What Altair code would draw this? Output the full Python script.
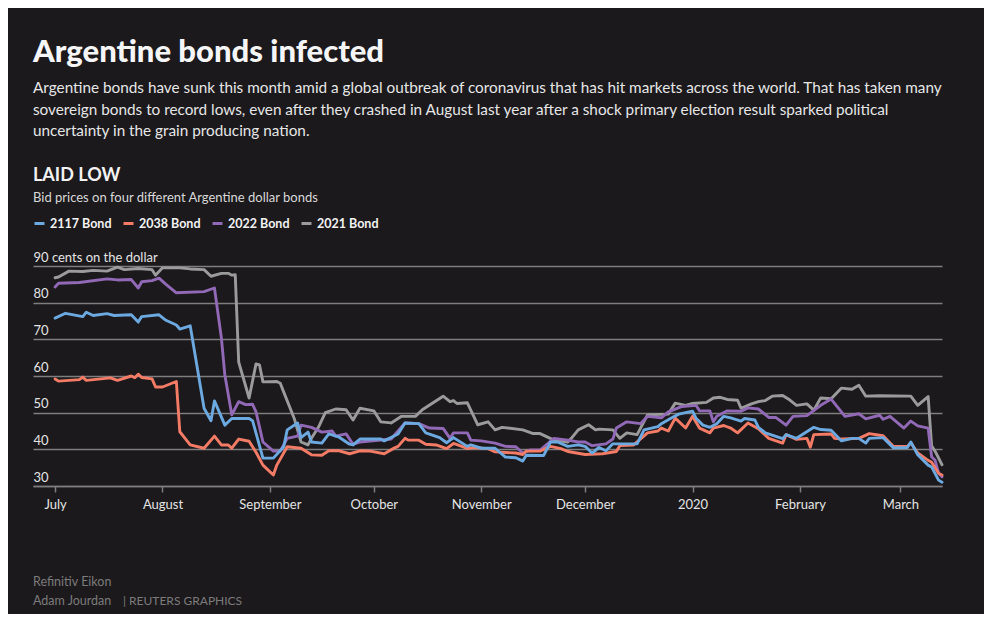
import altair as alt
import pandas as pd

# ---------------- data ----------------
series_names = ["2117 Bond", "2038 Bond", "2022 Bond", "2021 Bond"]
series_colors = ["#6ba9e0", "#f47b65", "#9169b6", "#9b9b9b"]

bond_2021_dates = [
    "2019-07-01", "2019-07-02", "2019-07-05", "2019-07-09", "2019-07-12", "2019-07-16",
    "2019-07-19", "2019-07-21", "2019-07-25", "2019-07-29", "2019-07-30", "2019-08-01",
    "2019-08-06", "2019-08-09", "2019-08-13", "2019-08-15", "2019-08-18", "2019-08-20",
    "2019-08-21", "2019-08-22", "2019-08-23", "2019-08-26", "2019-08-28", "2019-08-29",
    "2019-08-30", "2019-09-03", "2019-09-04", "2019-09-05", "2019-09-08", "2019-09-10",
    "2019-09-12", "2019-09-13", "2019-09-15", "2019-09-17", "2019-09-20", "2019-09-23",
    "2019-09-25", "2019-09-27", "2019-10-01", "2019-10-03", "2019-10-06", "2019-10-09",
    "2019-10-13", "2019-10-15", "2019-10-21", "2019-10-23", "2019-10-24", "2019-10-25",
    "2019-10-28", "2019-10-31", "2019-11-03", "2019-11-05", "2019-11-07", "2019-11-13",
    "2019-11-16", "2019-11-18", "2019-11-22", "2019-11-26", "2019-11-27", "2019-11-29",
    "2019-12-02", "2019-12-04", "2019-12-05", "2019-12-09", "2019-12-11", "2019-12-13",
    "2019-12-16", "2019-12-19", "2019-12-25", "2019-12-27", "2019-12-30", "2020-01-01",
    "2020-01-05", "2020-01-07", "2020-01-09", "2020-01-11", "2020-01-14", "2020-01-15",
    "2020-01-18", "2020-01-20", "2020-01-22", "2020-01-24", "2020-01-27", "2020-01-29",
    "2020-01-31", "2020-02-03", "2020-02-05", "2020-02-07", "2020-02-10", "2020-02-13",
    "2020-02-16", "2020-02-18", "2020-02-20", "2020-02-24", "2020-03-04", "2020-03-06",
    "2020-03-09", "2020-03-10", "2020-03-11", "2020-03-13",
]
bond_2021_values = [
    86.8, 87.0, 88.6, 88.5, 88.8, 88.6,
    89.7, 89.0, 89.3, 89.0, 87.5, 89.5,
    89.5, 89.2, 89.0, 87.2, 88.0, 88.0,
    87.5, 87.6, 63.8, 54.0, 63.3, 63.0,
    58.4, 58.5, 58.0, 55.6, 48.5, 42.0,
    41.2, 43.0, 46.0, 50.0, 51.0, 50.8,
    48.0, 51.2, 50.5, 47.5, 47.2, 49.0,
    49.0, 50.8, 54.5, 53.0, 53.3, 52.5,
    52.7, 46.7, 47.5, 45.3, 46.0, 45.3,
    44.3, 44.3, 42.5, 42.0, 43.0, 45.3,
    46.7, 45.3, 45.5, 45.3, 43.0, 44.5,
    44.0, 49.4, 49.6, 52.6, 52.0, 52.5,
    52.8, 54.0, 54.2, 53.6, 53.4, 51.2,
    52.4, 53.0, 53.3, 54.5, 54.7, 53.5,
    52.0, 52.4, 50.7, 54.0, 53.8, 56.7,
    56.4, 57.5, 54.5, 54.6, 54.5, 52.0,
    54.4, 41.0, 39.5, 35.8,
]

bond_2022_dates = [
    "2019-07-01", "2019-07-02", "2019-07-08", "2019-07-16", "2019-07-19", "2019-07-23",
    "2019-07-25", "2019-07-26", "2019-07-29", "2019-07-31", "2019-08-02", "2019-08-05",
    "2019-08-13", "2019-08-16", "2019-08-18", "2019-08-19", "2019-08-21", "2019-08-23",
    "2019-08-25", "2019-08-27", "2019-08-28", "2019-08-30", "2019-09-02", "2019-09-04",
    "2019-09-06", "2019-09-09", "2019-09-10", "2019-09-13", "2019-09-16", "2019-09-19",
    "2019-09-20", "2019-09-23", "2019-09-25", "2019-09-27", "2019-10-06", "2019-10-10",
    "2019-10-14", "2019-10-17", "2019-10-21", "2019-10-23", "2019-10-24", "2019-10-28",
    "2019-10-29", "2019-11-01", "2019-11-05", "2019-11-08", "2019-11-11", "2019-11-13",
    "2019-11-15", "2019-11-18", "2019-11-22", "2019-11-26", "2019-11-29", "2019-12-01",
    "2019-12-03", "2019-12-07", "2019-12-09", "2019-12-10", "2019-12-13", "2019-12-17",
    "2019-12-19", "2019-12-23", "2019-12-25", "2019-12-29", "2020-01-02", "2020-01-03",
    "2020-01-06", "2020-01-07", "2020-01-08", "2020-01-11", "2020-01-15", "2020-01-17",
    "2020-01-20", "2020-01-23", "2020-01-25", "2020-01-28", "2020-01-30", "2020-02-03",
    "2020-02-07", "2020-02-10", "2020-02-14", "2020-02-18", "2020-02-20", "2020-02-24",
    "2020-02-25", "2020-02-27", "2020-03-02", "2020-03-04", "2020-03-06", "2020-03-09",
    "2020-03-10", "2020-03-11", "2020-03-12", "2020-03-13",
]
bond_2022_values = [
    84.3, 85.3, 85.5, 86.5, 86.2, 86.3,
    84.0, 85.7, 86.0, 86.7, 85.0, 82.7,
    83.0, 84.0, 70.4, 60.3, 49.4, 53.0,
    52.2, 52.3, 50.2, 42.0, 39.5, 39.5,
    43.0, 43.6, 46.6, 46.0, 44.7, 45.0,
    43.6, 44.2, 41.4, 42.0, 42.8, 47.2,
    47.0, 45.8, 45.7, 43.0, 44.5, 44.5,
    42.5, 42.3, 41.7, 40.8, 40.7, 39.0,
    39.8, 39.8, 43.0, 42.5, 42.0, 42.0,
    41.0, 41.5, 42.8, 45.8, 47.5, 47.0,
    49.0, 48.6, 50.2, 51.7, 52.0, 50.5,
    50.5, 47.5, 49.0, 50.5, 50.4, 51.3,
    51.0, 48.7, 48.7, 46.6, 49.0, 49.2,
    52.0, 53.7, 49.0, 49.7, 48.3, 49.3,
    48.2, 49.0, 45.8, 47.7, 46.4, 45.8,
    38.0, 37.0, 33.5, 32.5,
]

bond_2038_dates = [
    "2019-07-01", "2019-07-02", "2019-07-08", "2019-07-09", "2019-07-10", "2019-07-17",
    "2019-07-19", "2019-07-23", "2019-07-24", "2019-07-25", "2019-07-26", "2019-07-29",
    "2019-07-30", "2019-08-01", "2019-08-05", "2019-08-06", "2019-08-09", "2019-08-13",
    "2019-08-16", "2019-08-18", "2019-08-20", "2019-08-21", "2019-08-23", "2019-08-26",
    "2019-08-28", "2019-08-30", "2019-09-02", "2019-09-03", "2019-09-06", "2019-09-10",
    "2019-09-13", "2019-09-16", "2019-09-18", "2019-09-21", "2019-09-24", "2019-09-27",
    "2019-09-30", "2019-10-04", "2019-10-07", "2019-10-08", "2019-10-10", "2019-10-11",
    "2019-10-14", "2019-10-16", "2019-10-19", "2019-10-22", "2019-10-24", "2019-10-27",
    "2019-10-28", "2019-10-30", "2019-11-03", "2019-11-05", "2019-11-11", "2019-11-13",
    "2019-11-14", "2019-11-18", "2019-11-21", "2019-11-24", "2019-11-26", "2019-12-01",
    "2019-12-06", "2019-12-10", "2019-12-11", "2019-12-15", "2019-12-19", "2019-12-22",
    "2019-12-23", "2019-12-25", "2019-12-27", "2019-12-30", "2020-01-01", "2020-01-03",
    "2020-01-06", "2020-01-07", "2020-01-10", "2020-01-12", "2020-01-14", "2020-01-17",
    "2020-01-20", "2020-01-23", "2020-01-27", "2020-01-28", "2020-01-31", "2020-02-03",
    "2020-02-04", "2020-02-05", "2020-02-10", "2020-02-11", "2020-02-13", "2020-02-18",
    "2020-02-21", "2020-02-25", "2020-02-28", "2020-03-03", "2020-03-04", "2020-03-06",
    "2020-03-09", "2020-03-10", "2020-03-12", "2020-03-13",
]
bond_2038_values = [
    59.2, 58.6, 59.0, 59.7, 58.8, 59.5,
    58.8, 60.0, 59.5, 60.5, 59.6, 59.2,
    57.0, 57.0, 58.5, 44.8, 41.2, 40.3,
    43.6, 41.2, 41.2, 40.3, 42.8, 42.2,
    39.2, 35.7, 33.0, 35.7, 40.7, 40.3,
    38.5, 38.4, 39.6, 39.6, 38.8, 39.6,
    39.5, 38.8, 40.4, 40.8, 43.0, 42.5,
    42.5, 41.4, 41.2, 40.2, 41.6, 40.6,
    40.2, 40.5, 40.2, 39.3, 39.0, 38.6,
    39.5, 39.5, 40.8, 40.2, 39.4, 38.6,
    38.8, 39.4, 41.0, 41.2, 44.5, 45.0,
    45.8, 45.0, 48.5, 45.8, 49.0, 45.8,
    44.5, 45.8, 46.5, 45.8, 44.5, 47.2,
    45.6, 43.0, 41.7, 44.0, 42.7, 43.0,
    40.6, 44.0, 44.2, 43.0, 42.8, 43.0,
    44.3, 43.7, 40.8, 40.8, 41.8, 39.0,
    37.0, 36.5, 33.5, 33.0,
]

bond_2117_dates = [
    "2019-07-01", "2019-07-04", "2019-07-09", "2019-07-10", "2019-07-12", "2019-07-16",
    "2019-07-18", "2019-07-23", "2019-07-25", "2019-07-26", "2019-07-31", "2019-08-02",
    "2019-08-05", "2019-08-06", "2019-08-09", "2019-08-13", "2019-08-15", "2019-08-16",
    "2019-08-19", "2019-08-21", "2019-08-26", "2019-08-27", "2019-08-30", "2019-09-02",
    "2019-09-05", "2019-09-06", "2019-09-09", "2019-09-10", "2019-09-12", "2019-09-13",
    "2019-09-16", "2019-09-18", "2019-09-21", "2019-09-24", "2019-09-25", "2019-09-27",
    "2019-10-03", "2019-10-04", "2019-10-08", "2019-10-10", "2019-10-14", "2019-10-16",
    "2019-10-20", "2019-10-22", "2019-10-24", "2019-10-28", "2019-10-29", "2019-11-01",
    "2019-11-05", "2019-11-08", "2019-11-11", "2019-11-13", "2019-11-14", "2019-11-19",
    "2019-11-21", "2019-11-23", "2019-11-26", "2019-11-29", "2019-12-01", "2019-12-03",
    "2019-12-05", "2019-12-07", "2019-12-09", "2019-12-16", "2019-12-18", "2019-12-22",
    "2019-12-23", "2019-12-26", "2019-12-28", "2020-01-01", "2020-01-02", "2020-01-04",
    "2020-01-06", "2020-01-08", "2020-01-10", "2020-01-12", "2020-01-15", "2020-01-16",
    "2020-01-19", "2020-01-20", "2020-01-22", "2020-01-27", "2020-01-28", "2020-01-31",
    "2020-02-05", "2020-02-07", "2020-02-10", "2020-02-13", "2020-02-16", "2020-02-18",
    "2020-02-20", "2020-02-21", "2020-02-25", "2020-02-28", "2020-03-03", "2020-03-04",
    "2020-03-06", "2020-03-09", "2020-03-10", "2020-03-12", "2020-03-13",
]
bond_2117_values = [
    75.8, 77.1, 76.2, 77.4, 76.5, 77.0,
    76.5, 76.7, 74.7, 76.2, 76.7, 75.2,
    73.9, 72.8, 73.7, 51.2, 47.8, 53.2,
    46.6, 48.4, 48.4, 47.8, 37.6, 37.6,
    40.7, 45.3, 47.2, 43.2, 44.7, 42.0,
    41.7, 44.2, 43.3, 41.4, 41.2, 42.8,
    42.8, 42.3, 44.2, 47.2, 47.0, 44.5,
    43.2, 41.8, 43.2, 40.8, 41.2, 40.3,
    40.3, 37.9, 37.7, 36.8, 38.4, 38.3,
    42.0, 42.0, 40.8, 41.2, 40.8, 39.0,
    40.5, 39.6, 41.5, 41.5, 45.3, 46.2,
    47.0, 48.6, 49.6, 50.4, 48.5, 46.6,
    46.0, 47.0, 49.0, 48.6, 47.7, 48.4,
    48.0, 46.0, 44.5, 42.9, 44.0, 43.0,
    46.0, 45.4, 45.2, 42.3, 43.0, 43.0,
    41.7, 43.0, 43.2, 40.4, 40.5, 42.0,
    38.5, 35.7, 35.2, 31.6, 31.0,
]

y_ticks = [30, 40, 50, 60, 70, 80, 90]
tick_months = ["2019-07", "2019-08", "2019-09", "2019-10", "2019-11",
               "2019-12", "2020-01", "2020-02", "2020-03"]

title_text = "Argentine bonds infected"
intro_lines = [
    "Argentine bonds have sunk this month amid a global outbreak of coronavirus that has hit markets across the world. That has taken many",
    "sovereign bonds to record lows, even after they crashed in August last year after a shock primary election result sparked political",
    "uncertainty in the grain producing nation.",
]
chart_heading = "LAID LOW"
chart_subheading = "Bid prices on four different Argentine dollar bonds"
source_text = "Refinitiv Eikon"
byline_text = "Adam Jourdan"
credit_text = "| REUTERS GRAPHICS"

# ---------------- styling ----------------
BG = "#1b191c"
FONT = "Lato"
GRID = "#7e7e7e"

def series_frame(dates, values, name):
    return pd.DataFrame({"date": pd.to_datetime(dates), "price": values, "series": name})

frames = [
    series_frame(bond_2021_dates, bond_2021_values, "2021 Bond"),
    series_frame(bond_2022_dates, bond_2022_values, "2022 Bond"),
    series_frame(bond_2038_dates, bond_2038_values, "2038 Bond"),
    series_frame(bond_2117_dates, bond_2117_values, "2117 Bond"),
]

def dt(s):
    y, m = s.split("-")
    return alt.DateTime(year=int(y), month=int(m), date=1)

x_scale = alt.Scale(domain=[alt.DateTime(year=2019, month=6, date=24, hours=15),
                            alt.DateTime(year=2020, month=3, date=13)])
y_scale = alt.Scale(domain=[30, 90], nice=False, zero=False)
color_scale = alt.Scale(domain=series_names, range=series_colors)

x_axis = alt.Axis(
    values=[dt(s) for s in tick_months],
    labelExpr="month(datum.value) == 0 ? timeFormat(datum.value, '%Y') : timeFormat(datum.value, '%B')",
    title=None, grid=False, domain=True, domainColor=GRID, domainWidth=1.5,
    ticks=True, tickColor=GRID, tickWidth=1.5, tickSize=6, labelPadding=6,
    labelFont=FONT, labelFontSize=13, labelColor="#e4e4e4",
    labelFlush=False, labelOverlap=False,
)
y_axis = alt.Axis(
    values=y_ticks,
    labelExpr="datum.value == 90 ? '90 cents on the dollar' : datum.label",
    title=None, grid=True, gridColor=GRID, gridWidth=1.5,
    domain=False, ticks=False, tickSize=0, labelPadding=0,
    labelAlign="left", labelBaseline="alphabetic", labelOffset=-5,
    labelFont=FONT, labelFontSize=13, labelColor="#e4e4e4",
)
legend = alt.Legend(
    orient="none", legendX=0, legendY=-49, direction="horizontal", columns=4,
    title=None, symbolType="stroke", symbolSize=100, symbolStrokeWidth=3,
    labelFont=FONT, labelFontSize=12.5, labelFontWeight="bold", labelColor="#f2f2f2",
    labelOffset=4, columnPadding=5, padding=0,
)

layers = []
for f in frames:
    layers.append(
        alt.Chart(f).mark_line(strokeWidth=2.9, strokeJoin="round", strokeCap="round").encode(
            x=alt.X("date:T", scale=x_scale, axis=x_axis),
            y=alt.Y("price:Q", scale=y_scale, axis=y_axis),
            color=alt.Color("series:N", scale=color_scale, legend=legend),
        )
    )

one_row = alt.Data(values=[{"k": 1}])

def label(text, x, y, size, color, weight="normal", line_height=None):
    kw = dict(align="left", baseline="alphabetic", font=FONT, fontSize=size,
              color=color, fontWeight=weight)
    if line_height is not None:
        kw["lineHeight"] = line_height
    return alt.Chart(one_row).mark_text(**kw).encode(
        x=alt.value(x), y=alt.value(y), text=alt.value(text)
    )

texts = [
    label(title_text, 0, -204, 31, "#f6f6f8", weight=900),
    label(intro_lines, 0, -173, 15.3, "#e6e6e6", line_height=21.5),
    label(chart_heading, 0, -85, 18, "#f2f2f2", weight="bold"),
    label(chart_subheading, 0, -64, 13, "#d8d8d8"),
    label(source_text, 0, 320, 12.5, "#7b7b7b"),
    label(byline_text, 0, 339, 12.5, "#7b7b7b"),
    label(credit_text, 90, 339, 12, "#7b7b7b"),
]

chart = alt.layer(*layers, *texts).properties(
    width=909, height=220,
    autosize=alt.AutoSizeParams(type="none"),
    padding={"left": 25, "top": 258, "right": 42, "bottom": 128},
    background=BG,
).configure_view(strokeWidth=0)

chart.save("out.html", embed_options={"renderer": "svg", "actions": False})
